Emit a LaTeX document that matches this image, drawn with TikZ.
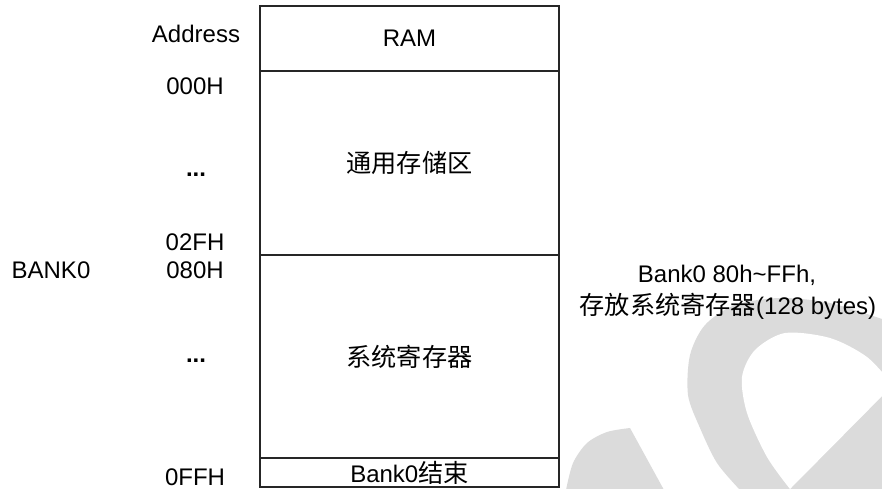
\documentclass[tikz,border=0pt]{standalone}
\usepackage{fontspec}
\setmainfont{Liberation Sans}
\newfontfamily\cjk{Noto Sans CJK SC}[Scale=1.05]
\begin{document}
\begin{tikzpicture}[x=1pt,y=-1pt,
  cell/.style={draw=black!85, line width=1.1pt, inner sep=0pt, minimum width=299pt, font=\fontsize{24}{28}\selectfont},
  lbl/.style={inner sep=0pt, anchor=base, font=\fontsize{24}{28}\selectfont},
  wm/.style={fill=black!14, draw=none}]
\useasboundingbox (0,0) rectangle (882,489);
\begin{scope}
\clip (0,0) rectangle (882,489);
\fill[wm] plot[smooth] coordinates {(740,490) (717,463) (700,428) (688,395) (690,355) (705,325) (735,305) (780,298) (830,303) (885,320)} -- (885,490) -- cycle;
\fill[white] plot[smooth] coordinates {(790,489) (767,457) (747,413) (742,377) (755,350) (785,333) (830,338) (867,357) (893,385)} -- (790,489) -- cycle;
\fill[wm] plot[smooth] coordinates {(566,490) (573,463) (587,443) (607,432) (630,428)} -- (664,490) -- cycle;
\end{scope}
\node[cell, minimum height=65pt] (ram) at (409.5,38.5) {RAM};
\node[cell, minimum height=184pt] (gen) at (409.5,163) {\cjk 通用存储区};
\node[cell, minimum height=203pt] (sys) at (409.5,356.5) {\cjk 系统寄存器};
\node[cell, minimum height=29pt] (bend) at (409.5,472.5) {Bank0{\cjk 结束}};
\node[lbl] (addr) at (196,43) {Address};
\node[lbl] (a000) at (195,95) {000H};
\node[lbl] (dots1) at (196,176) {\textbf{...}};
\node[lbl] (a02f) at (195,250) {02FH};
\node[lbl] (a080) at (195,278) {080H};
\node[lbl] (bank) at (51,278) {BANK0};
\node[lbl] (dots2) at (196,362) {\textbf{...}};
\node[lbl] (a0ff) at (195,485) {0FFH};
\node[lbl] (note1) at (727,282) {Bank0 80h\textasciitilde FFh,};
\node[lbl] (note2) at (728,314) {{\cjk 存放系统寄存器}(128 bytes)};
\end{tikzpicture}
\end{document}
